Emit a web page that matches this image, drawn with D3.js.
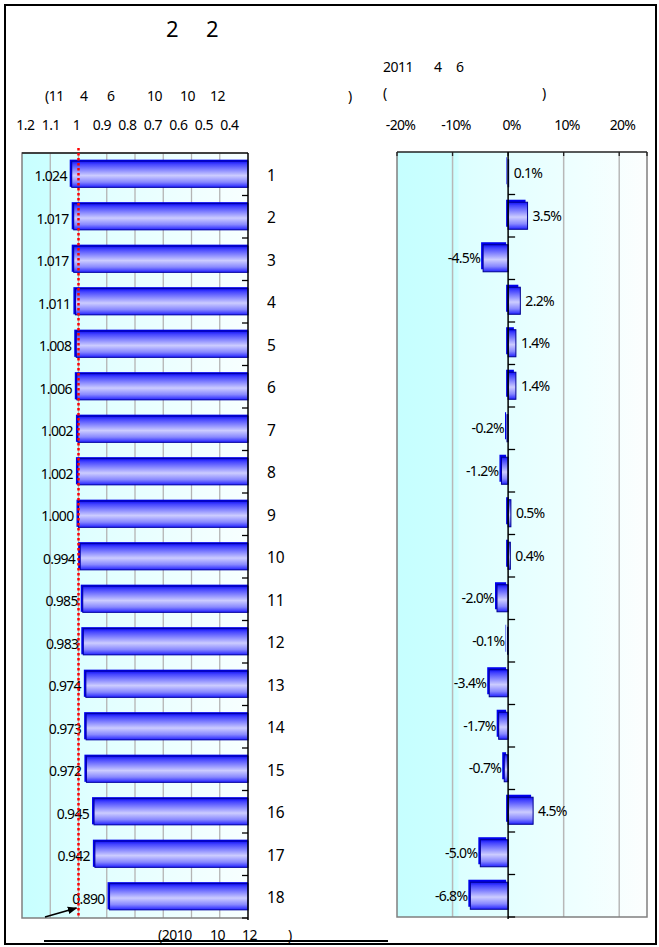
<!DOCTYPE html>
<html><head><meta charset="utf-8">
<script src="https://cdn.jsdelivr.net/npm/d3@7"></script>
<style>body{margin:0;background:#fff}svg{display:block}text{font-family:"Noto Sans","Noto Sans CJK JP",sans-serif;fill:#000}</style>
</head><body><div id="c"></div>
<script>
const categories = ["1","2","3","4","5","6","7","8","9","10","11","12","13","14","15","16","17","18"];
const indexValues = [1.024,1.017,1.017,1.011,1.008,1.006,1.002,1.002,1.000,0.994,0.985,0.983,0.974,0.973,0.972,0.945,0.942,0.890];
const changeValues = [0.1,3.5,-4.5,2.2,1.4,1.4,-0.2,-1.2,0.5,0.4,-2.0,-0.1,-3.4,-1.7,-0.7,4.5,-5.0,-6.8];
const leftTicks = [1.2,1.1,1.0,0.9,0.8,0.7,0.6,0.5,0.4];
const leftTickLabels = ["1.2","1.1","1","0.9","0.8","0.7","0.6","0.5","0.4"];
const rightTicks = [-20,-10,0,10,20];
const rightTickLabels = ["-20%","-10%","0%","10%","20%"];
const refLine = 1.0;

const W=659,H=947;
const svg=d3.select("#c").append("svg").attr("width",W).attr("height",H);
const defs=svg.append("defs");

function grad(id, stops, vertical){
  const g=defs.append("linearGradient").attr("id",id).attr("x1",0).attr("y1",0)
    .attr("x2",vertical?0:1).attr("y2",vertical?1:0);
  stops.forEach(s=>g.append("stop").attr("offset",s[0]).attr("stop-color",s[1]));
}
grad("barG",[[0,"#1010f8"],[0.12,"#4444ff"],[0.55,"#ccccff"],[0.8,"#8888ff"],[1,"#2222ff"]],true);
grad("bgL",[[0,"#c8ffff"],[0.12,"#ccffff"],[0.125,"#d6ffff"],[0.3,"#e0ffff"],[1,"#f8ffff"]],false);
grad("bgR",[[0,"#c6ffff"],[0.24,"#ccffff"],[0.25,"#dcffff"],[0.5,"#e6ffff"],[0.75,"#f0ffff"],[1,"#fcfefe"]],false);

svg.append("rect").attr("x",5).attr("y",5).attr("width",651).attr("height",939)
  .attr("fill","none").attr("stroke","#000").attr("stroke-width",2);

// ---- LEFT CHART ----
const L={x0:22,x1:248,y0:153,y1:918};
const xL=d3.scaleLinear().domain([1.2,0.4]).range([L.x0,L.x1]);
const xLlab=d3.scaleLinear().domain([1.2,0.4]).range([25,229]);
const yL=d3.scaleBand().domain(categories).range([L.y0,L.y1]).paddingInner(0.36).paddingOuter(0.18);

svg.append("rect").attr("x",L.x0).attr("y",L.y0).attr("width",L.x1-L.x0).attr("height",L.y1-L.y0).attr("fill","url(#bgL)");
svg.append("g").selectAll("line").data(leftTicks.slice(1,-1)).join("line")
  .attr("x1",d=>xL(d)).attr("x2",d=>xL(d)).attr("y1",L.y0).attr("y2",L.y1)
  .attr("stroke","#b4b4b4").attr("stroke-width",1.3);
svg.append("path").attr("d",`M${L.x1},${L.y0}H${L.x0}V${L.y1}H${L.x1}`).attr("fill","none").attr("stroke","#808080").attr("stroke-width",1.5);
svg.append("line").attr("x1",L.x0).attr("x2",L.x1).attr("y1",L.y0).attr("y2",L.y0).attr("stroke","#222").attr("stroke-width",1.3);

const axL=d3.axisTop(xLlab).tickValues(leftTicks).tickSize(0).tickFormat((d,i)=>leftTickLabels[i]);
const gAxL=svg.append("g").attr("transform","translate(0,130)").call(axL);
gAxL.select(".domain").remove();
gAxL.selectAll("text").attr("font-size",14).attr("dy",0).attr("y",0).attr("letter-spacing",-0.5).style("font-family","'Noto Sans',sans-serif");

const lb=svg.append("g");
lb.selectAll(".bk").data(indexValues).join("rect")
  .attr("x",d=>xL(d)-2).attr("y",(d,i)=>yL(categories[i])-1).attr("width",d=>L.x1-xL(d)+2).attr("height",yL.bandwidth())
  .attr("fill","#0000ee");
lb.selectAll(".fr").data(indexValues).join("rect")
  .attr("x",d=>xL(d)).attr("y",(d,i)=>yL(categories[i])+0.5).attr("width",d=>L.x1-xL(d)).attr("height",yL.bandwidth()-1)
  .attr("fill","url(#barG)").attr("stroke","#0000a0").attr("stroke-width",1);
lb.selectAll("text").data(indexValues).join("text")
  .attr("x",d=>xL(d)-5).attr("y",(d,i)=>yL(categories[i])+yL.bandwidth()/2+7)
  .attr("text-anchor","end").attr("font-size",14).attr("letter-spacing",-0.7).text(d=>d3.format(".3f")(d));

const axC=d3.axisRight(yL).tickSize(0).tickFormat(d=>d);
const gC=svg.append("g").attr("transform",`translate(${L.x1},0)`).call(axC);
gC.select(".domain").remove();
gC.selectAll("text").attr("font-size",15.5).attr("x",19).attr("dy","0.42em").attr("text-anchor","start");
svg.append("line").attr("x1",L.x1).attr("x2",L.x1).attr("y1",L.y0).attr("y2",L.y1+2).attr("stroke","#000").attr("stroke-width",1.5);
svg.append("g").selectAll("line").data(categories.slice(1).concat(["end"])).join("line")
  .attr("x1",L.x1-6).attr("x2",L.x1).attr("y1",(d,i)=>L.y0+yL.step()*(i+1)).attr("y2",(d,i)=>L.y0+yL.step()*(i+1))
  .attr("stroke","#000").attr("stroke-width",1.3);

svg.append("line").attr("x1",xL(refLine)).attr("x2",xL(refLine)).attr("y1",148).attr("y2",L.y1)
  .attr("stroke","#ff0000").attr("stroke-width",2.5).attr("stroke-dasharray","2.5,2.5");

defs.append("marker").attr("id","arr").attr("viewBox","0 0 10 10").attr("refX",9).attr("refY",5)
  .attr("markerWidth",6).attr("markerHeight",6).attr("orient","auto")
  .append("path").attr("d","M0,1L10,5L0,9Z").attr("fill","#000");
svg.append("line").attr("x1",45).attr("y1",917).attr("x2",xL(refLine)-2).attr("y2",908)
  .attr("stroke","#000").attr("stroke-width",1.6).attr("marker-end","url(#arr)");

// ---- RIGHT CHART ----
const R={x0:397,x1:647,y0:152,y1:917};
const xR=d3.scaleLinear().domain([-20,25]).range([R.x0,R.x1]);
const xRlab=d3.scaleLinear().domain([-20,20]).range([400,622]);
const yR=d3.scaleBand().domain(categories).range([R.y0,R.y1]).paddingInner(0.34).paddingOuter(0.17);

svg.append("rect").attr("x",R.x0).attr("y",R.y0).attr("width",R.x1-R.x0).attr("height",R.y1-R.y0).attr("fill","url(#bgR)");
svg.append("g").selectAll("line").data(rightTicks.filter(d=>d!==0&&d!==-20)).join("line")
  .attr("x1",d=>xR(d)).attr("x2",d=>xR(d)).attr("y1",R.y0).attr("y2",R.y1)
  .attr("stroke","#b8b8b8").attr("stroke-width",1.5);
svg.append("path").attr("d",`M${R.x0},${R.y0}V${R.y1}H${R.x1}V${R.y0}`).attr("fill","none").attr("stroke","#808080").attr("stroke-width",1.5);
svg.append("line").attr("x1",R.x0).attr("x2",R.x1).attr("y1",R.y0).attr("y2",R.y0).attr("stroke","#222").attr("stroke-width",1.3);
svg.append("g").selectAll("line").data(rightTicks.concat([25])).join("line")
  .attr("x1",d=>xR(d)).attr("x2",d=>xR(d)).attr("y1",R.y0).attr("y2",R.y0+4).attr("stroke","#222").attr("stroke-width",1.3);

const axR=d3.axisTop(xRlab).tickValues(rightTicks).tickSize(0).tickFormat((d,i)=>rightTickLabels[i]);
const gAxR=svg.append("g").attr("transform","translate(0,130)").call(axR);
gAxR.select(".domain").remove();
gAxR.selectAll("text").attr("font-size",14).attr("y",0).attr("dy",0).attr("letter-spacing",-0.7);

const rb=svg.append("g");
rb.selectAll(".bk").data(changeValues).join("rect")
  .attr("x",d=>Math.min(xR(d),xR(0))-2).attr("y",(d,i)=>yR(categories[i])-2)
  .attr("width",d=>Math.abs(xR(d)-xR(0))).attr("height",yR.bandwidth()-1).attr("fill","#0000ee");
rb.selectAll(".fr").data(changeValues).join("rect")
  .attr("x",d=>Math.min(xR(d),xR(0))).attr("y",(d,i)=>yR(categories[i])+0.5)
  .attr("width",d=>Math.abs(xR(d)-xR(0))).attr("height",yR.bandwidth()-1)
  .attr("fill","url(#barG)").attr("stroke","#000090").attr("stroke-width",1);
rb.selectAll("text").data(changeValues).join("text")
  .attr("x",d=>d>=0?xR(d)+5:xR(d)-3).attr("y",(d,i)=>yR(categories[i])+yR.bandwidth()/2+5)
  .attr("text-anchor",d=>d>=0?"start":"end").attr("font-size",14).attr("letter-spacing",-0.7)
  .text(d=>d3.format(".1f")(d).replace("−","-")+"%");

svg.append("line").attr("x1",xR(0)).attr("x2",xR(0)).attr("y1",R.y0).attr("y2",R.y1+2).attr("stroke","#000").attr("stroke-width",1.5);
svg.append("g").selectAll("line").data(categories.slice(1).concat(["end"])).join("line")
  .attr("x1",xR(0)).attr("x2",xR(0)+7).attr("y1",(d,i)=>R.y0+yR.step()*(i+1)).attr("y2",(d,i)=>R.y0+yR.step()*(i+1))
  .attr("stroke","#000").attr("stroke-width",1.3);

// ---- TEXTS ----
function t(x,y,s,size){svg.append("text").attr("x",x).attr("y",y).attr("font-size",size).attr("letter-spacing",-0.5).text(s);}
t(166,37,"2",22); t(206,37,"2",22);
t(45,101,"(11",14); t(80,101,"4",14); t(107,101,"6",14); t(147,101,"10",14); t(180,101,"10",14); t(210,101,"12",14); t(348,101,")",14);
t(383,72,"2011",14); t(434,72,"4",14); t(456,72,"6",14);
t(383,98,"(",14); t(542,98,")",14);
svg.append("line").attr("x1",44).attr("x2",388).attr("y1",941).attr("y2",941).attr("stroke","#000").attr("stroke-width",2);
t(158,940,"(2010",14); t(210,940,"10",14); t(242,940,"12",14); t(288,940,")",14);
</script></body></html>
